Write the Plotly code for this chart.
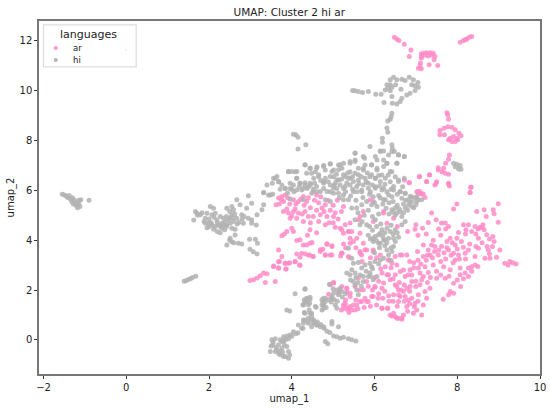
import plotly.graph_objects as go

title = "UMAP: Cluster 2 hi ar"
languages = ["ar", "hi"]

hi_far_left = [(-1.55,5.85),(-1.5,5.82),(-1.45,5.78),(-1.42,5.72),(-1.38,5.8),(-1.35,5.65),(-1.3,5.7),(-1.32,5.55),(-1.28,5.45),(-1.25,5.6),(-1.22,5.4),(-1.2,5.5),(-1.18,5.3),(-1.15,5.45),(-1.12,5.35),(-1.14,5.6),(-1.1,5.62),(-0.9,5.6),
(1.4,2.35),(1.45,2.38),(1.5,2.42),(1.55,2.45),(1.6,2.5),(1.68,2.55)]

hi_left_blob = [(1.67,5.15),(1.71,5.08),(1.79,5.02),(1.63,4.81),(2.03,5.35),(2.11,5.28),(1.91,4.68),(1.99,4.68),(2.07,4.61),(2.15,4.55),(2.11,4.44),(2.27,4.3),(2.31,4.68),(2.35,4.88),(2.43,5.28),(2.55,5.35),(2.59,5.22),(2.55,5.02),(2.47,4.81),(2.59,4.75),(2.67,4.88),(2.79,5.02),(2.67,5.62),(2.75,5.42),(2.95,5.79),(3.03,5.48),(2.91,5.28),(3.16,5.02),(2.95,4.88),(3.03,4.81),(3.14,4.61),(2.83,4.68),(3.03,4.68),(2.55,4.48),(2.63,4.44),(2.51,4.08),(2.55,3.94),(2.43,3.81),(2.63,4.21),(2.71,3.88),(2.79,3.85),(2.98,4.04),(3.12,4.04),(3.17,3.88),(2.99,3.64),(3.07,3.54),(3.16,3.45),(2.19,4.81),(2.27,4.95),(2.39,4.75),(2.23,4.61),(1.95,5.08),(1.91,4.88),(2.07,5.02),(2.15,5.08),(3.32,5.42),(3.28,5.22),(3.48,5.82),(3.32,5.91),(2.43,4.61),(2.51,4.68),(2.31,4.48),
(1.72,5.0),(1.83,5.1),(1.88,4.75),(2.0,4.85),(2.05,4.7),(2.12,4.92),(2.2,4.7),(2.28,4.55),(2.35,4.6),(2.38,4.42),(2.42,4.95),(2.5,5.15),(2.5,4.9),(2.58,4.9),(2.62,5.05),(2.68,4.65),(2.72,4.72),(2.8,4.85),(2.85,4.95),(2.2,4.35),(2.0,4.55),(1.95,4.5),(2.42,4.55),(2.6,3.9),(2.5,4.0)]

hi_lower = [(4.08,1.85),(4.32,2.03),(4.38,1.67),(4.3,1.61),(4.44,1.63),(4.27,1.41),(4.4,1.41),(3.88,1.2),(3.95,1.16),(4.3,1.1),(4.48,1.07),(4.59,1.31),(4.73,1.61),(4.81,1.67),(4.77,1.41),(4.73,1.2),(4.89,1.61),(4.97,1.67),(4.32,.8),(4.4,.87),(4.48,.83),(4.28,.67),(4.4,.67),(4.52,.67),(4.16,.6),(4.27,.47),(4.6,.6),(4.69,.53),(4.78,.47),(4.48,.53),(4.04,.33),(3.96,.2),(3.88,.16),(3.8,.13),(4.15,.29),(3.72,0),(3.52,0),(3.54,-.2),(3.88,-.27),(3.76,-.07),(3.68,-.2),(3.48,-.47),(3.6,-.47),(3.72,-.6),(3.8,-.67),(3.92,-.47),(3.92,-.74),(3.76,-.34),(3.72,-.47),(3.64,-.4),(3.84,-.67),(4.81,-.07),(4.87,-.16),(4.97,.74),(5.13,.53),(5.01,.16),(5.09,.13),(5.17,.07),(5.25,.11),(5.37,.04),(5.45,0),(5.55,-.05),
(4.32,2.05),(4.36,1.67),(4.44,1.71),(4.32,1.54),(4.28,1.4),(4.43,1.47),(4.57,1.34),(4.77,1.67),(4.81,1.54),(4.73,1.4),(4.77,1.27),(5.01,1.87),(4.97,1.74),(5.09,2),(5.17,2.07),(5.21,1.94),(5.13,1.81),(5.05,1.4),(5.09,1.27),(4.91,2.23),(5.33,2.68),(5.45,2.81),(5.41,2.61),(5.53,2.68),(5.49,3.08),(5.61,3.11),(5.45,3.28),(5.69,2.88),(5.77,3.01),(5.89,3.08),(6.01,3.15),(6.14,3.21),(6.22,3.28),(6.34,3.41),(6.42,3.55),(6.46,3.75),(6.5,3.95),(6.3,3.61),(5.89,2.68),(5.85,2.54),(6.06,2.54),(5.97,2.41),(5.73,2.34),(5.53,2.2),(5.57,2),(5.61,1.81),(5.93,2.94),(5.73,2.54),(5.49,2.34),(4.24,.47),(4.28,.8),(4.4,.74),(4.53,.8),(4.61,.6),(4.77,.53),(4.97,.64),(4.32,1.07),(4.44,1.07),
(3.55,-.1),(3.62,-.3),(3.68,-.55),(3.78,-.5),(3.82,-.2),(3.85,0),(3.92,.05),(3.6,.05),(3.5,-.25),(3.8,-.05),(3.95,-.6),(4.0,.15),(4.1,.25),(4.35,1.55),(4.42,1.2),(4.48,.95),(4.55,.7),(4.62,.72),(4.7,.62),(4.85,.35),(4.92,.3),(4.75,1.5),(4.83,1.3),(4.95,1.52),(5.02,1.62),(5.1,1.55),(5.22,1.72),(5.15,1.95),(5.3,1.85),(5.0,2.05)]

hi_top = [(5.47,10.01),(5.53,10),(5.61,9.97),(5.71,9.93),(5.85,9.97),(6.03,9.86),(6.16,9.86),(6.26,10.03),(6.3,10.24),(6.38,10.44),(6.46,10.54),(6.54,10.44),(6.66,10.46),(6.74,10.41),(6.84,10.54),(6.94,10.44),(7.05,10.33),(7.06,10.14),(6.98,10.01),(6.86,9.9),(6.78,9.83),(6.66,9.7),(6.62,9.57),(6.54,9.47),(6.43,9.5),(6.23,9.53),(6.42,9.77),(6.38,10),(6.38,10.24),(6.51,10.24),(6.64,10.06),(6.9,10.24),(6.98,10.2),(6.42,10.14),(6.32,10.1),
(6.42,9.1),(6.4,8.96),(6.38,8.86),(6.32,8.79),(6.3,8.5),(6.32,8.33),(4.04,8.25),(4.1,8.23),(4.15,8.13),(4.15,7.66),(4.34,7.83),(6.19,8.09),(6.19,7.93),(6.42,7.83),(6.43,7.69),(6.48,7.56),(5.89,7.76),(6.14,7.58),(6.22,7.58),(6.34,7.42),(6.58,7.42),(6.72,7.36),(5.53,7.49),(6.02,7.36),
(7.91,7.09),(7.99,7.05),(8.07,7),(8.03,6.86),(7.95,6.95),(8.09,6.85)]

hi_main = [(4.32,7.02),(4.45,6.89),(4.61,6.95),(4.77,7),(4.93,7.06),(5.13,7.02),(5.25,7.09),(5.41,7.16),(5.53,7.22),(5.76,7.29),(5.77,7.02),(5.93,7.02),(6.06,7.22),(6.22,7.22),(6.3,7.09),(6.54,7.09),(6.42,6.75),(6.06,6.82),(5.89,6.55),(5.73,6.82),(5.61,6.89),(5.41,6.75),(5.21,6.89),(5.01,6.82),(4.81,6.82),(4.57,6.75),(4.36,6.69),(4.08,6.75),(3.92,6.75),(4.12,6.49),(4.2,6.29),(4.32,6.31),(4.45,6.22),(4.53,6.49),(4.65,6.55),(4.77,6.35),(4.93,6.22),(5.01,6.55),(5.13,6.42),(5.29,6.55),(5.41,6.49),(5.53,6.69),(5.61,6.42),(5.73,6.22),(5.85,6.29),(6.02,6.49),(6.18,6.62),(6.38,6.35),(6.58,6.42),(6.02,6.15),(6.18,6.02),(6.3,5.95),(6.46,6.02),(6.62,5.95),(6.74,5.88),(6.9,5.75),(7.02,5.75),(7.14,5.62),(7.02,5.55),(6.82,5.62),(6.66,5.68),(6.42,5.75),(6.22,5.62),(5.97,5.75),(5.69,5.95),(5.49,5.95),(5.25,6.08),(5.09,6.08),(4.93,5.95),(4.77,6.08),(4.61,5.95),(4.4,6.15),(4.24,6.02),(4.04,6.22),(3.96,6.08),(3.84,6.08),(3.68,6.35),(3.6,6.49),
(5.53,7.5),(5.73,7.36),(6.14,7.56),(6.42,7.56),(6.58,7.43),(6.72,7.36),(6.54,7.09),(6.38,6.76),(6.72,6.49),(6.58,6.36),(6.46,6.16),(6.62,5.96),(6.74,5.89),(6.86,5.76),(6.98,5.69),(7.06,5.62),(6.9,5.35),(6.74,5.29),(6.62,5.15),(6.5,5.29),(6.42,5.22),(6.54,5.09),(6.66,4.95),(6.74,4.75),(6.66,4.62),(6.5,4.42),(6.38,4.35),(6.14,4.28),(6.02,4.15),(5.97,3.95),(6.1,3.88),(6.22,4.01),(6.34,4.08),(6.46,4.08),(6.58,4.12),(6.02,4.82),(5.81,4.62),(5.65,4.62),(5.53,4.82),(5.45,5.29),(5.57,5.29),(5.69,5.42),(5.81,5.55),(5.93,5.42),(6.06,5.35),(6.14,5.69),(6.26,5.62),(6.34,5.82),(5.25,5.62),(5.13,5.89),(5.25,5.82),(5.37,5.62),(5.01,6.09),(4.97,6.76),(5.17,7.03),(5.41,7.09),(5.53,7.16),(5.73,6.89),(5.93,7.03),(6.06,6.89),(6.22,6.96),(6.3,7.09),(5.25,6.63),(5.37,6.49),(5.49,6.36),(5.61,6.63),(5.77,6.49),(5.93,6.63),(6.02,6.49),(6.14,6.36),(6.26,6.49),(5.09,6.42),(5.17,6.22),(5.29,6.16),(5.41,6.22),(5.57,6.16),(5.69,6.02),(5.85,6.09),(6.02,6.09),(6.22,6.09),(6.18,4.42),(6.3,4.48),(5.97,4.08),(6.1,4.22),(6.26,4.01),(6.14,3.88),(5.37,3.68),
(4.32,7.03),(4.44,6.89),(4.6,6.89),(4.77,6.96),(4.93,7.07),(3.92,6.76),(4,6.76),(4.12,6.76),(4.12,6.49),(3.64,6.56),(3.56,6.49),(3.53,6.29),(3.4,6.22),(3.32,5.92),(3.44,5.82),(3.54,5.85),(3.68,6.36),(3.76,6.22),(3.96,6.29),(3.84,6.09),(4,6.05),(4.2,6.29),(4.32,6.22),(4.44,6.29),(4.6,6.16),(4.77,6.29),(4.48,6.69),(4.65,6.63),(4.81,6.49),(4.93,6.56),(5.13,6.83),(5.05,6.29),(4.28,6.09),(4.12,6.02),(4.48,5.89),(4.69,5.96),(4.85,5.96),(3.96,5.65),(4.28,5.62),(5.01,5.89),(4.81,5.62),(4.93,5.55),
(3.72,6.05),(3.9,5.9),(4.05,5.95),(4.18,6.15),(4.37,6.08),(4.52,6.05),(4.55,6.3),(4.7,6.4),(4.88,6.35),(5.02,6.2),(5.08,6.65),(5.2,6.45),(5.33,6.3),(5.35,6.7),(5.47,6.55),(5.47,6.05),(5.58,5.95),(5.62,6.27),(5.68,6.55),(5.8,6.35),(5.83,6.7),(5.9,5.95),(5.95,6.22),(6.1,6.6),(6.12,6.18),(6.25,6.25),(6.33,6.62),(6.4,6.05),(6.5,6.55),(6.55,5.85),(6.68,6.15),(5.15,5.7),(5.3,5.95),(5.42,5.78),(5.55,5.6),(5.72,5.72),(5.88,5.85),(6.0,5.5),(6.1,5.8),(6.2,5.45),(6.35,5.5),(6.45,5.55),(6.55,5.4),(6.7,5.45),(6.8,5.2),(6.85,5.5),(6.95,5.3),(7.0,5.42),(6.6,5.25),(6.5,5.0),(6.7,5.1),(6.45,5.12),(6.35,5.05),(6.28,5.28),(6.82,5.4),(6.9,5.55),(6.75,5.6),
(5.6,5.1),(5.75,5.0),(5.85,5.2),(5.95,4.95),(6.1,5.05),(5.7,4.75),(5.88,4.55),(5.95,4.4),(6.05,4.55),(6.15,4.65),(6.25,4.3),(6.4,4.6),(6.45,4.25),(6.55,4.3),(6.2,4.15),(6.05,3.98),(5.85,4.2),(5.9,4.05),(6.12,3.7),(6.25,3.78),(6.3,3.9),(6.4,3.7),(6.0,3.5),
(6.4,3.2),(6.1,3.05),(5.95,2.85),(5.8,2.75),(5.65,2.6),(5.6,2.3),(5.9,2.55),(5.55,2.5),(5.68,2.15),(5.42,2.4)]

ar_top = [(6.48,12.15),(6.54,12.08),(6.59,12.02),(6.72,11.87),(6.88,11.64),(6.84,11.37),(7.13,11.48),(7.18,11.51),(7.26,11.53),(7.34,11.53),(7.42,11.51),(7.46,11.37),(7.38,11.44),(7.3,11.4),(7.22,11.44),(7.44,11.24),(7.32,11.04),(7.53,11.01),(7.13,11.31),(7.11,11.11),(7.06,10.9),(7.13,10.88),(7.1,11),(7.14,11.37),
(8.07,11.95),(8.15,12.02),(8.23,12.08),(8.29,12.15),(8.35,12.18),(8.2,12.05),
(7.75,9.12),(7.77,9.03),(7.79,8.86),(7.77,8.56),(7.87,8.53),(7.68,8.49),(7.58,8.4),(7.58,8.23),(7.69,8.23),(7.95,8.43),(8.04,8.29),(8.09,8.19),(7.99,8.09),(7.91,8.16),(7.83,8.09),(7.87,7.96),(7.95,7.96),(8.01,8.03),(7.79,8.03),
(7.81,7.42),(7.79,7.25),(7.72,7.09),(7.54,6.91),(7.54,6.82),(7.63,6.75),(7.71,6.69),(7.79,6.65),(7.67,6.89),(7.08,6.55),(7.33,6.62),(7.26,6.35),(7.5,6.35),(7.46,6.22),(7.79,6.29),(7.81,6.18),(6.84,6.31),(6.72,6.42),(8.33,6.13),(8.31,5.92),(7.02,5.95),(7.1,5.95),(7.18,5.86),(7.06,5.86),(7.22,5.72)]

ar_right = [(7.09,6.56),(7.33,6.63),(6.84,6.32),(7.26,6.36),(7.49,6.29),(7.79,6.26),(8.33,6.13),(8.31,5.92),(7.06,5.96),(7.14,5.86),(7.99,5.45),(7.91,5.25),(8.99,5.46),(8.87,5.22),(8.89,5.06),(8.47,5.15),(8.65,5.22),(8.7,4.95),(8.99,4.72),(7.38,5.09),(7.49,4.82),(7.3,4.71),(7.71,4.69),(7.62,4.69),(7.79,4.55),(7,4.62),(7.16,4.48),(6.98,4.44),(8.15,4.62),(8.27,4.62),(8.43,4.55),(8.55,4.52),(8.65,4.42),(8.03,4.31),(8.21,4.42),(8.35,4.35),(8.51,4.08),(8.71,4.22),(8.86,4.15),(8.89,3.95),(7.99,4.08),(7.83,4.08),(7.75,3.95),(7.38,3.81),(7.46,3.75),(7.62,3.75),(7.95,3.81),(8.15,3.72),(8.27,3.61),(7.79,3.61),(8.75,3.61),(9.03,3.61),(8.51,3.68),(7.18,3.81),(7.04,3.55),(7.3,3.61),(7.34,3.41),(7.54,3.41),(7.18,3.35),(7.91,3.48),(8.03,3.41),(8.19,3.48),(7.95,3.21),(8.43,3.35),(8.67,3.28),(8.95,3.32),(8.79,3.28),(9.15,3.08),(9.27,3.15),(9.34,3.1),(9.42,3.05),(9.23,3.01),(8.43,3.01),(8.35,2.94),(8.27,2.88),(8.07,2.88),(8.19,2.68),(8.07,2.61),(8.27,2.54),(7.83,2.81),(7.67,2.94),(7.42,3.01),(7.22,2.94),(7.06,2.88),(7.1,2.68),(7.18,2.54),(7.5,2.47),(7.71,2.47),(7.91,2.27),(8.08,2.14),(6.86,2.81),(6.74,2.54),(6.9,2.34),(7.14,2.41),(7.1,2.21),(7.34,2.07),(7.22,1.94),(7.83,1.94),(7.79,1.81),(7.91,1.87),(7.66,1.63),(7.26,1.67),(7.06,1.81),(6.9,1.67),(6.98,1.47),(6.7,1.94),(6.58,2),(6.5,2.21),(6.38,2.41),(6.5,2.61),(6.3,2.61),(6.26,2.94),(6.34,3.21),(6.5,3.35),(6.66,3.41),(6.78,3.41),(7.18,1.4),(7.14,1),(6.94,1.07),(6.78,1.34),(6.58,1.54),(6.46,1.81),(6.18,2.07),(6.01,2.11),(6.2,1.67),(6.34,1.77),(5.97,1.74),(5.81,1.54),(5.65,1.54),(5.49,1.4),(5.45,1.2),(5.29,1.4),(5.25,1.27),(5.37,1.27),(5.53,2.14),(5.33,2.07),(5.65,2),(6.18,1.27),(6.32,1.27),(6.05,1.4),(6.38,1),(6.46,1.07),(6.5,.94),(6.66,.87),(6.58,.87),(6.7,1),(6.96,1.34),(5.77,1.67),(7,2.14),(6.86,2.14),(6.62,1.74),(6.74,1.74),
(5.21,4.42),(5.37,4.35),(5.45,4.35),(5.41,4.08),(5.49,3.95),(5.57,4.08),(5.65,4.28),(5.73,3.88),(5.81,3.61),(5.97,3.61),(5.69,3.41),(5.65,3.55),(5.21,3.48),(5.61,4.82),(5.73,5.15),(6.22,5.09),(6.3,4.68),(6.46,4.88),(5.97,4.75),(5.29,4.62),(5.41,4.69),(5.25,5.35),(5.65,4.95),(5.89,5.62),(5.97,5.55),(6.22,5.15),
(7.05,3.2),(7.12,3.05),(7.25,3.2),(7.28,3.4),(7.4,3.3),(7.45,3.55),(7.5,2.75),(7.55,3.6),(7.6,3.15),(7.68,3.5),(7.72,3.25),(7.75,3.7),(7.85,3.4),(7.88,3.9),(7.9,3.1),(8.0,3.65),(8.05,3.25),(8.1,3.95),(8.2,3.25),(8.3,3.85),(8.45,3.75),(8.6,3.9),(8.6,4.5),(8.72,3.75),(8.78,3.45),(8.85,3.75),(6.95,3.1),(6.9,2.6),(6.95,2.9),(7.0,2.35),(7.28,2.3),(7.3,2.7),(7.35,2.5),(7.6,2.6),(7.8,2.55),(8.0,2.4),(8.15,2.45),(8.35,2.75),(8.5,2.95),(6.45,2.45),(6.6,2.3),(6.65,2.0),(6.72,2.2),(6.85,1.95),(6.45,1.55),(6.55,1.35),(6.72,1.55),(6.85,1.45),(7.05,1.55),(6.8,1.15),(7.02,1.2),(6.1,1.85),(6.25,1.95),(6.35,1.55),(5.9,1.35),(5.75,1.3),(5.6,1.25),(5.55,1.6),(5.3,1.6),(5.2,1.2),(5.38,1.1),(5.95,2.0),(6.1,2.35),(6.0,2.5),(5.85,2.15),(6.15,2.85),(6.05,3.3),(6.4,2.9),(6.7,2.8),(6.85,3.15),(8.2,4.25),(8.5,4.45),(8.45,4.25),(8.62,4.62),(8.78,4.05),(7.55,4.45),(7.6,4.2),(7.72,4.45),(7.42,4.0),(7.25,4.25),(6.55,4.55),(6.8,4.35),(7.05,4.2),(5.55,3.7),(5.3,3.7),(5.7,3.15),(5.9,3.3),(5.25,3.85)]

ar_left = [(2.99,2.38),(3.08,2.41),(3.16,2.48),(3.24,2.57),(3.32,2.68),(3.4,2.65),(3.36,2.3),(3.6,2.34),(3.56,2.97),(3.68,2.88),(3.7,3.15),(3.84,3.08),(3.95,3.1),(3.86,2.84),(4.08,3.15),(4.19,3.01),(5.01,2.28),(4.89,1.83),
(3.62,5.42),(3.68,5.69),(3.76,5.76),(3.84,5.82),(3.8,5.55),(4.04,5.62),(4.16,5.55),(4.28,5.76),(4.52,5.96),(4.6,5.82),(4.36,5.55),(4.73,5.29),(4.81,5.42),(3.8,5.15),(3.92,5.09),(4.04,5.15),(4.16,5.09),(3.96,4.88),(4.12,4.88),(4.32,5.15),(4.52,4.95),(4.69,5.02),(4.85,4.95),(5.01,4.95),(4.81,4.62),(5.05,4.52),(5.17,4.48),(5.25,4.28),(5.37,4.35),(4.44,4.42),(4,4.48),(4.04,4.35),(3.88,4.35),(3.76,4.18),(4.12,3.99),(4.2,4.02),(4.28,3.81),(4.36,3.81),(4.44,3.88),(3.68,3.61),(3.76,3.35),(3.68,3.14),(3.84,3.08),(3.92,3.08),(3.56,2.94),(3.68,2.88),(3.86,2.84),(4.08,3.14),(4.2,3),(4.12,3.45),(4.2,3.32),(4.32,3.45),(4.43,3.41),(4.52,3.35),(4.69,3.55),(4.75,3.64),(4.85,3.84),(4.97,3.75),(4.81,3.41),(4.93,3.41),(5.21,3.48),(5.18,3.37),(5.39,3.31),(5.01,2.3),(4.93,2.21),(5.21,2.14),(5.33,1.94),(5.41,1.74),(5.25,1.4),(5.33,1.23),(5.13,1.87),
(4.24,3.48),(4.4,3.41),(4.51,3.35),(4.69,3.62),(4.81,3.41),(4.97,3.41),(4.85,3.86),(4.97,3.78),(5.21,3.48),(4.49,3.91),(5.37,3.35),(5.65,3.48),(5.77,3.62),(5.97,3.55),(6.14,3.41),(5.41,3.88),(6.34,3.21),(5.61,2.48),(5.81,2.34),(6.18,2.68),(6.34,2.61),(6.22,2.28),(6.01,2.14),(5.73,2.01),(5.41,1.87),(5.33,2.07),(5.29,1.47),(5.41,1.34),(5.57,1.4),(5.53,1.2),(5.69,1.54),(5.85,1.54),(5.93,1.74),(6.09,1.67),(6.18,1.27),(6.31,1.27),(6.42,.96),(6.54,.87),(6.66,.83),(6.58,1.81),(6.82,1.6),(6.78,2.07),(6.54,2.14),(6.62,2.74),(6.82,2.61),(6.54,3.01),(6.42,3.08),(6.62,3.41),
(3.7,5.45),(3.75,5.62),(3.9,5.7),(3.95,5.45),(4.1,5.45),(4.22,5.65),(4.3,5.4),(4.4,5.7),(4.45,5.3),(4.55,5.6),(4.65,5.5),(4.7,5.75),(4.88,5.6),(5.0,5.4),(5.1,5.6),(5.2,5.15),(3.88,5.25),(4.0,4.98),(4.08,5.25),(4.25,5.05),(4.4,4.95),(4.6,5.2),(4.78,5.15),(4.93,5.2),(5.05,5.1),(5.12,4.85),(4.28,4.75),(4.45,4.7),(4.65,4.75),(4.9,4.7),(5.0,4.7),(3.82,4.25),(4.38,4.2),(4.6,4.3)]

ar_points = ar_top + ar_right + ar_left
hi_points = hi_far_left + hi_left_blob + hi_lower + hi_top + hi_main

PINK = "rgba(255,140,200,0.85)"
GRAY = "rgba(178,178,178,0.85)"
COLORS = {"ar": "#ff93cb", "hi": "#b5b5b5"}
FONT = "DejaVu Sans"
SPINE = "#777777"

fig = go.Figure()
for name, pts, col in [("ar", ar_points, PINK), ("hi", hi_points, GRAY)]:
    fig.add_trace(go.Scatter(x=[p[0] for p in pts], y=[p[1] for p in pts], mode="markers", name=name,
                             showlegend=False, marker=dict(size=5, color=col, line=dict(width=0))))

# Legend drawn in plot-area fractions so its compact rows can be matched
shapes = [dict(type="rect", xref="paper", yref="paper", x0=0.009, x1=0.194, y0=0.870, y1=0.989,
               fillcolor="white", line=dict(color="#dddddd", width=1.2), layer="above")]
annotations = [dict(text="languages", xref="paper", yref="paper", x=0.0985, y=0.9625, xanchor="center", yanchor="middle",
                    showarrow=False, font=dict(size=11, family=FONT, color="#222"))]
for lang, yc in zip(languages, [0.9235, 0.8895]):
    shapes.append(dict(type="circle", xref="paper", yref="paper", x0=0.0295, x1=0.0375, y0=yc-0.0057, y1=yc+0.0057,
                       fillcolor=COLORS[lang], line=dict(width=0), layer="above"))
    annotations.append(dict(text=lang, xref="paper", yref="paper", x=0.0645, y=yc, xanchor="left", yanchor="middle",
                            showarrow=False, font=dict(size=8.5, family=FONT, color="#222")))
shapes.append(dict(type="circle", xref="paper", yref="paper", x0=0.1725, x1=0.1745, y0=0.9165, y1=0.9193,
                   fillcolor="#aaaaaa", line=dict(width=0), layer="above"))

fig.update_layout(
    width=550, height=410, autosize=False,
    margin=dict(l=38.5, r=10, t=21, b=36),
    paper_bgcolor="white", plot_bgcolor="white", showlegend=False,
    title=dict(text=title, x=0.526, xanchor="center", y=0.971, yanchor="middle", font=dict(family=FONT, size=10.5, color="#222")),
    font=dict(family=FONT, color="#222"),
    shapes=shapes, annotations=annotations,
)
axis = dict(automargin=False, showgrid=False, zeroline=False, showline=True, linecolor=SPINE, linewidth=1.5, mirror=True,
            ticks="outside", ticklen=3, tickwidth=1, tickcolor="#333", tickfont=dict(size=10, family=FONT, color="#222"))
fig.update_xaxes(range=[-2.11, 10], tickvals=[-2,0,2,4,6,8,10], ticktext=["−2","0","2","4","6","8","10"],
                 title=dict(text="umap_1", font=dict(size=10, family=FONT, color="#222"), standoff=3), **axis)
fig.update_yaxes(range=[-1.37, 12.8], tickvals=[0,2,4,6,8,10,12],
                 title=dict(text="umap_2", font=dict(size=10, family=FONT, color="#222"), standoff=3), **axis)
fig.write_html("out.html", config={"displayModeBar": False}, post_script="document.body.style.margin='0';")
